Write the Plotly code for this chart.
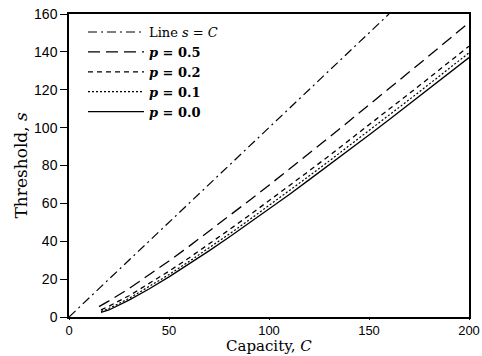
import plotly.graph_objects as go

capacity = [16, 20, 30, 40, 50, 60, 70, 80, 90, 100, 110, 120, 130, 140, 150, 160, 170, 180, 190, 200]
capacity_p05 = [15, 20, 30, 40, 50, 60, 70, 80, 90, 100, 110, 120, 130, 140, 150, 160, 170, 180, 190, 200]
s_p00 = [2.5, 3.7, 8.9, 14.8, 21.2, 27.9, 34.9, 42.1, 49.5, 57.0, 64.6, 72.4, 80.2, 88.2, 96.1, 104.2, 112.3, 120.5, 128.7, 137.0]
s_p01 = [3.0, 4.5, 9.8, 15.9, 22.4, 29.3, 36.4, 43.7, 51.2, 58.8, 66.5, 74.4, 82.3, 90.3, 98.4, 106.5, 114.7, 122.9, 131.2, 139.5]
s_p02 = [3.8, 5.7, 11.2, 17.5, 24.2, 31.2, 38.5, 46.0, 53.6, 61.3, 69.2, 77.1, 85.1, 93.2, 101.4, 109.6, 117.9, 126.2, 134.6, 143.0]
s_p05 = [5.5, 8.5, 15.0, 22.1, 29.6, 37.3, 45.2, 53.2, 61.4, 69.6, 77.9, 86.4, 94.8, 103.4, 111.9, 120.6, 129.2, 137.9, 146.7, 155.5]
line_x = [0, 160]
line_y = [0, 160]

x_ticks = [0, 50, 100, 150, 200]
y_ticks = [0, 20, 40, 60, 80, 100, 120, 140, 160]

x_title = "Capacity, <i>C</i>"
y_title = "Threshold, <i>s</i>"

serif = "DejaVu Serif"
sans = "Liberation Sans"

fig = go.Figure()
fig.add_trace(go.Scatter(x=line_x, y=line_y, mode="lines",
                         name="Line <i>s</i> = <i>C</i>",
                         line=dict(color="black", width=1.2, dash="9px,4px,2px,4px")))
fig.add_trace(go.Scatter(x=capacity_p05, y=s_p05, mode="lines",
                         name="<b><i>p</i> = 0.5</b>",
                         line=dict(color="black", width=1.3, dash="12px,6px")))
fig.add_trace(go.Scatter(x=capacity, y=s_p02, mode="lines",
                         name="<b><i>p</i> = 0.2</b>",
                         line=dict(color="black", width=1.3, dash="5px,4px")))
fig.add_trace(go.Scatter(x=capacity, y=s_p01, mode="lines",
                         name="<b><i>p</i> = 0.1</b>",
                         line=dict(color="black", width=1.2, dash="2px,2px")))
fig.add_trace(go.Scatter(x=capacity, y=s_p00, mode="lines",
                         name="<b><i>p</i> = 0.0</b>",
                         line=dict(color="black", width=1.3)))

fig.update_layout(
    width=482, height=356,
    margin=dict(l=69, r=13, t=14, b=39),
    paper_bgcolor="white", plot_bgcolor="white",
    showlegend=True,
    legend=dict(x=0.035, y=0.99, xanchor="left", yanchor="top",
                bgcolor="rgba(0,0,0,0)", borderwidth=0,
                font=dict(family=serif, size=13, color="black"),
                tracegroupgap=0, itemwidth=56),
    xaxis=dict(range=[0, 200], tickvals=x_ticks, ticks="outside", ticklen=1,
               tickcolor="black", showline=True, linecolor="black", linewidth=1.5,
               mirror=True, showgrid=False, zeroline=False, automargin=False,
               tickfont=dict(family=sans, size=13, color="black")),
    yaxis=dict(range=[0, 160], tickvals=y_ticks, ticks="outside", ticklen=7,
               tickcolor="black", showline=True, linecolor="black", linewidth=1.5,
               mirror=True, showgrid=False, zeroline=False, automargin=False,
               tickfont=dict(family=sans, size=14, color="black")),
    annotations=[
        dict(text=x_title, xref="paper", yref="paper", x=0.5, y=0,
             xanchor="center", yanchor="bottom", yshift=-39, showarrow=False,
             borderpad=0, font=dict(family=serif, size=15, color="black")),
        dict(text=y_title, xref="paper", yref="paper", x=0, y=0.5,
             xanchor="center", yanchor="middle", xshift=-49, textangle=-90,
             showarrow=False, font=dict(family=serif, size=17, color="black")),
    ],
)

fig.write_html("out.html")
